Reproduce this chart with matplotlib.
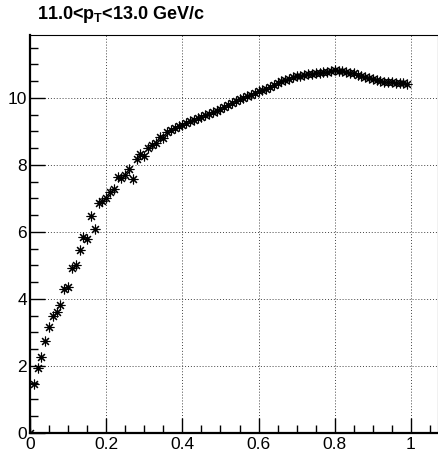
import matplotlib
matplotlib.use("Agg")
import matplotlib.pyplot as plt
from matplotlib.ticker import MultipleLocator

plt.rcParams['font.family'] = ['Liberation Sans', 'DejaVu Sans']
plt.rcParams['mathtext.fontset'] = 'custom'
plt.rcParams['mathtext.rm'] = 'Liberation Sans:bold'
plt.rcParams['mathtext.bf'] = 'Liberation Sans:bold'

TITLE = "11.0<p$_{\\mathbf{T}}$<13.0 GeV/c"

# x positions: one point every 0.01 from 0 to 0.99
x_vals = [i / 100 for i in range(100)]

y_vals = [
    0.00, 1.47, 1.95, 2.27, 2.76, 3.17, 3.50, 3.62, 3.81, 4.30,
    4.35, 4.93, 5.01, 5.46, 5.86, 5.78, 6.49, 6.09, 6.87, 6.93,
    7.00, 7.20, 7.29, 7.65, 7.62, 7.70, 7.87, 7.57, 8.17, 8.32,
    8.28, 8.50, 8.60, 8.67, 8.85, 8.82, 8.97, 9.05, 9.10, 9.15,
    9.20, 9.24, 9.30, 9.35, 9.40, 9.43, 9.48, 9.52, 9.58, 9.62,
    9.67, 9.72, 9.80, 9.84, 9.90, 9.96, 10.00, 10.05, 10.10, 10.14,
    10.20, 10.24, 10.27, 10.32, 10.40, 10.45, 10.50, 10.55, 10.58, 10.62,
    10.65, 10.67, 10.70, 10.72, 10.73, 10.74, 10.76, 10.77, 10.79, 10.80,
    10.83, 10.82, 10.80, 10.79, 10.76, 10.74, 10.70, 10.67, 10.63, 10.60,
    10.57, 10.53, 10.50, 10.48, 10.47, 10.47, 10.46, 10.45, 10.44, 10.42,
]

fig = plt.figure(figsize=(4.38, 4.53), dpi=100)
ax = fig.add_axes([30 / 438, 20 / 453, 408 / 438, 398 / 453])

ax.plot(x_vals, y_vals, linestyle='none', marker=(8, 2, 0),
        markersize=7, markeredgewidth=0.8, color='black')

ax.set_xlim(0, 1.071)
ax.set_ylim(0, 11.88)

ax.xaxis.set_major_locator(MultipleLocator(0.2))
ax.xaxis.set_minor_locator(MultipleLocator(0.05))
ax.yaxis.set_major_locator(MultipleLocator(2))
ax.yaxis.set_minor_locator(MultipleLocator(0.5))
ax.xaxis.set_major_formatter(plt.FuncFormatter(lambda v, p: f"{v:g}"))

ax.tick_params(which='both', direction='in', top=False, right=False,
               labelsize=12.5, color='black')
ax.tick_params(which='major', length=11, width=1.0, pad=3)
ax.tick_params(which='minor', length=6, width=1.0)
ax.tick_params(axis='y', pad=2)

ax.grid(True, which='major', color='#444444', linestyle=(0, (1, 2)),
        linewidth=0.7)

for side in ('left', 'bottom'):
    ax.spines[side].set_linewidth(1.6)
for side in ('top', 'right'):
    ax.spines[side].set_linewidth(0.8)

fig.text(37 / 438, 1 - 19 / 453, TITLE, fontsize=13, fontweight='bold',
         ha='left', va='baseline')

fig.savefig("out.png", dpi=100)
